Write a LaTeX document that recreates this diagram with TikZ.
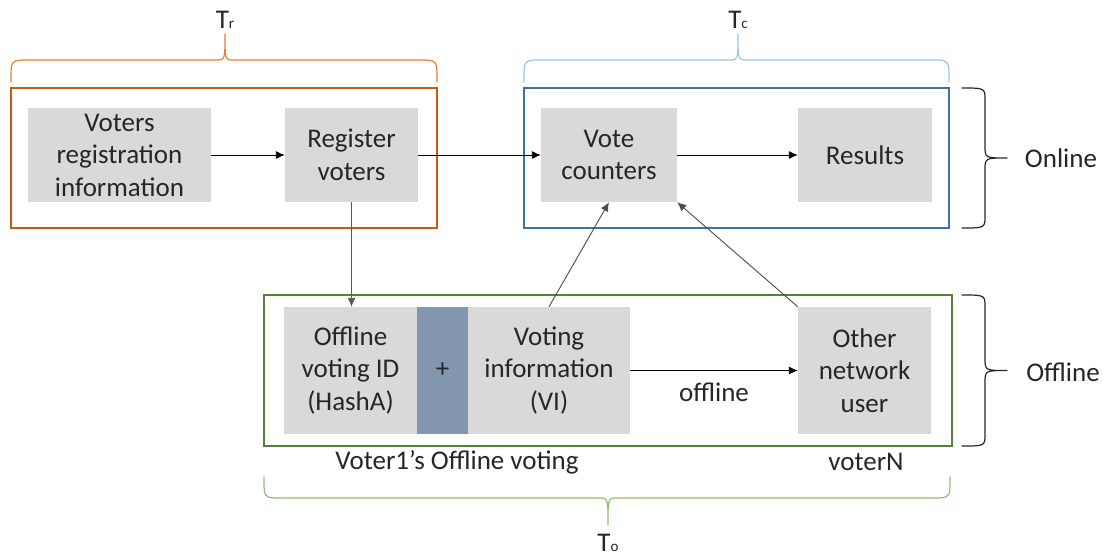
\documentclass[tikz,border=0pt]{standalone}
\usepackage{fontspec}
\setmainfont{Carlito}
\usetikzlibrary{arrows.meta}
\definecolor{boxgray}{HTML}{D9D9D9}
\definecolor{plusblue}{HTML}{8497B0}
\definecolor{frameorange}{HTML}{C55A11}
\definecolor{braceorange}{HTML}{ED7D31}
\definecolor{frameblue}{HTML}{41719C}
\definecolor{braceblue}{HTML}{9DC3E6}
\definecolor{framegreen}{HTML}{548235}
\definecolor{bracegreen}{HTML}{8FBF6E}
\newcommand{\smallsub}[1]{{\fontsize{15}{15}\selectfont #1}}
\begin{document}
\begin{tikzpicture}[x=1pt,y=-1pt,
  txt/.style={font=\fontsize{27}{32.5}\selectfont, text=black!85, align=center, inner sep=0pt},
  gbox/.style={txt, fill=boxgray, minimum height=94},
  frame/.style={draw, line width=1.8, inner sep=0pt},
  arr/.style={line width=0.9, -{Latex[length=9,width=8]}},
  bracepath/.style={line width=1.2, line cap=round, line join=round},
]
\useasboundingbox (0,0) rectangle (1104,557);
% frames
\node[frame, draw=frameorange, minimum width=426, minimum height=140] (fr) at (224,158) {};
\node[frame, draw=frameblue, minimum width=425, minimum height=140] (fc) at (736.5,158) {};
\node[frame, draw=framegreen, minimum width=688, minimum height=151] (fo) at (608,370.5) {};
% gray boxes
\node[gbox, minimum width=183] (vri) at (119.5,155) {Voters\\registration\\information};
\node[gbox, minimum width=133] (reg) at (351.5,155) {Register\\voters};
\node[gbox, minimum width=136] (vc) at (609,155) {Vote\\counters};
\node[gbox, minimum width=134] (res) at (865,155) {Results};
\node[gbox, minimum width=133, minimum height=127] (oid) at (350.5,370.5) {Offline\\voting ID\\(HashA)};
\node[txt, fill=plusblue, minimum width=51, minimum height=127] (plus) at (442.5,370.5) {+};
\node[gbox, minimum width=162, minimum height=127] (vi) at (549,370.5) {Voting\\information\\(VI)};
\node[gbox, minimum width=133, minimum height=127] (onu) at (864.5,370.5) {Other\\network\\user};
% arrows
\draw[arr] (vri) -- (reg);
\draw[arr] (reg) -- (vc);
\draw[arr] (vc) -- (res);
\draw[arr, draw=black!65] (reg.south) -- (reg.south |- oid.north);
\draw[arr, draw=black!70] (vi.north) -- (vc.south);
\draw[arr, draw=black!70] (onu.north west) -- (vc.south east);
\draw[arr] (vi) -- node[txt, below=12pt] (offl) {offline} (onu);
% labels
\node[txt] (v1) at (457,462) {Voter1’s Offline voting};
\node[txt] (vn) at (866,462) {voterN};
% top braces
\draw[bracepath, draw=braceorange] (11,82) .. controls (11,61) .. (22,60) -- (216,60) .. controls (225,60) .. (225,34)
  .. controls (225,60) .. (234,60) -- (426,60) .. controls (437,61) .. (437,82);
\node[txt] (tr) at (225,20) {T\smallsub{r}};
\draw[bracepath, draw=braceblue] (524,82) .. controls (524,61) .. (535,60) -- (729,60) .. controls (738,60) .. (738,34)
  .. controls (738,60) .. (747,60) -- (938,60) .. controls (949,61) .. (949,82);
\node[txt] (tc) at (738,20) {T\smallsub{c}};
% bottom brace
\draw[bracepath, draw=bracegreen] (264,477) .. controls (264,497) .. (275,498) -- (599,498) .. controls (608,498) .. (608,525)
  .. controls (608,498) .. (617,498) -- (939,498) .. controls (950,497) .. (950,477);
\node[txt] (to) at (608,543) {T\smallsub{o}};
% right braces
\draw[bracepath, draw=black!85] (962,88) .. controls (985,88) .. (985,100) -- (985,146) .. controls (985,158) .. (1007,158)
  .. controls (985,158) .. (985,170) -- (985,216) .. controls (985,228) .. (962,228);
\node[txt] (on) at (1061,158) {Online};
\draw[bracepath, draw=black!85] (962,295) .. controls (985,295) .. (985,307) -- (985,358) .. controls (985,370.5) .. (1007,370.5)
  .. controls (985,370.5) .. (985,383) -- (985,434) .. controls (985,446) .. (962,446);
\node[txt] (of) at (1063,372) {Offline};
\end{tikzpicture}
\end{document}
